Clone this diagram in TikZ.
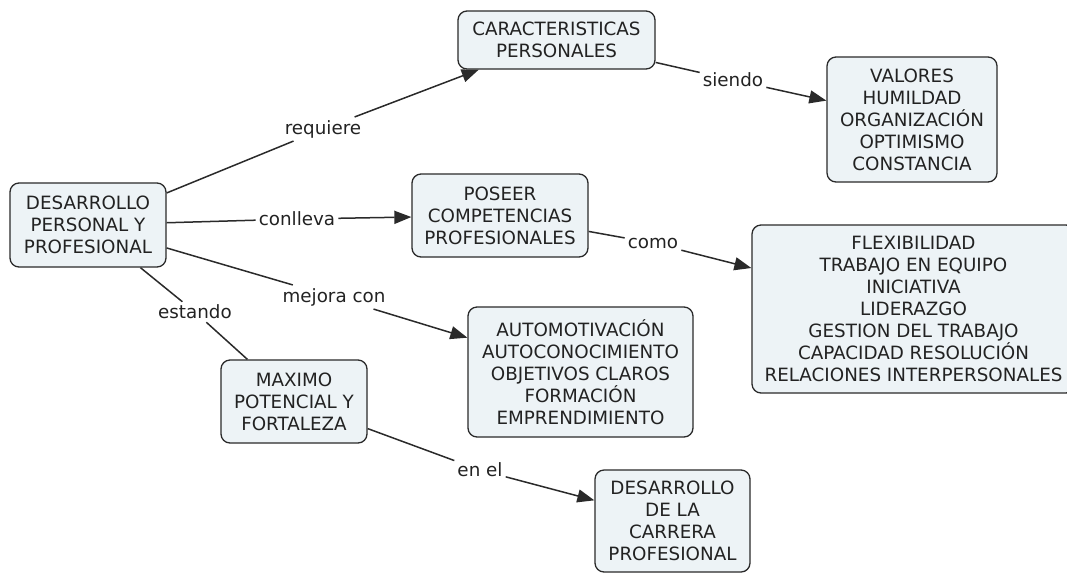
\documentclass[tikz,border=0pt]{standalone}
\usepackage{fontspec}
\setmainfont{DejaVu Sans}
\usetikzlibrary{arrows.meta}

\definecolor{cmapfill}{HTML}{EDF3F6}
\definecolor{cmapline}{HTML}{2A2A2A}
\definecolor{cmaptext}{HTML}{222222}

\tikzset{
  concept/.style = {draw=cmapline, fill=cmapfill, line width=1.3pt, rounded corners=9pt,
                    align=center, text=cmaptext, inner sep=0pt,
                    font=\fontsize{18.3}{22}\selectfont},
  linkword/.style = {inner sep=3pt, text=cmaptext, font=\fontsize{18.3}{22}\selectfont},
  link/.style = {draw=cmapline, line width=1.5pt},
  arrowlink/.style = {link, -{Triangle[length=17pt, width=13pt]}}
}

\begin{document}
\begin{tikzpicture}[x=1pt, y=-1pt]
\useasboundingbox (0,0) rectangle (1067,574);

% concepts
\node[concept, minimum width=156pt, minimum height=84pt]  (dpp)   at (88,225)    {DESARROLLO\\PERSONAL Y\\PROFESIONAL};
\node[concept, minimum width=197pt, minimum height=58pt]  (carac) at (556.5,40)  {CARACTERISTICAS\\PERSONALES};
\node[concept, minimum width=170pt, minimum height=125pt] (valor) at (912,119.5) {VALORES\\HUMILDAD\\ORGANIZACIÓN\\OPTIMISMO\\CONSTANCIA};
\node[concept, minimum width=176pt, minimum height=83pt]  (comp)  at (500,215.5) {POSEER\\COMPETENCIAS\\PROFESIONALES};
\node[concept, minimum width=323pt, minimum height=168pt] (flex)  at (913.5,309) {FLEXIBILIDAD\\TRABAJO EN EQUIPO\\INICIATIVA\\LIDERAZGO\\GESTION DEL TRABAJO\\CAPACIDAD RESOLUCIÓN\\RELACIONES INTERPERSONALES};
\node[concept, minimum width=225pt, minimum height=130pt] (auto)  at (580.5,372) {AUTOMOTIVACIÓN\\AUTOCONOCIMIENTO\\OBJETIVOS CLAROS\\FORMACIÓN\\EMPRENDIMIENTO};
\node[concept, minimum width=146pt, minimum height=83pt]  (maxp)  at (294,401.5) {MAXIMO\\POTENCIAL Y\\FORTALEZA};
\node[concept, minimum width=155pt, minimum height=102pt] (carr)  at (672.5,521) {DESARROLLO\\DE LA\\CARRERA\\PROFESIONAL};

% linking words
\node[linkword] (requiere) at (323,129) {requiere};
\node[linkword] (siendo)   at (733,80)  {siendo};
\node[linkword] (conlleva) at (297,219) {conlleva};
\node[linkword] (como)     at (653,243) {como};
\node[linkword] (mejora)   at (334,297) {mejora con};
\node[linkword] (estando)  at (195,312) {estando};
\node[linkword] (enel)     at (480,470) {en el};

% links
\draw[link]      (dpp)      -- (requiere);
\draw[arrowlink] (requiere) -- (carac);
\draw[link]      (carac)    -- (siendo);
\draw[arrowlink] (siendo)   -- (valor);

\draw[link]      (dpp)      -- (conlleva);
\draw[arrowlink] (conlleva) -- (comp);
\draw[link]      (comp)     -- (como);
\draw[arrowlink] (como)     -- (flex);

\draw[link]      (dpp)      -- (mejora);
\draw[arrowlink] (mejora)   -- (auto);

\draw[link]      (dpp)      -- (estando);
\draw[link]      (estando)  -- (maxp);
\draw[link]      (maxp)     -- (enel);
\draw[arrowlink] (enel)     -- (carr);

\end{tikzpicture}
\end{document}
